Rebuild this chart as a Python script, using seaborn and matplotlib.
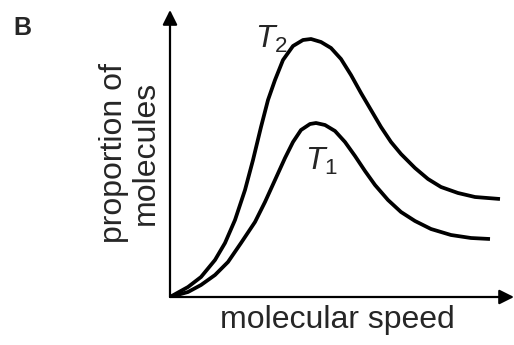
import matplotlib
matplotlib.use("Agg")
import matplotlib.pyplot as plt
import seaborn as sns
import pandas as pd

# values (arbitrary units, origin at the axis corner)
speed_t2 = [0, 18, 31, 45, 55, 65, 75, 83, 91, 98, 105, 113, 123, 133, 141,
            151, 161, 171, 181, 191, 201, 211, 221, 231, 245, 258, 271, 288, 305, 330]
prop_t2 = [0, 10, 20, 37, 54, 77, 107, 137, 170, 197, 217, 237, 251, 257, 258,
           255, 249, 238, 222, 204, 187, 170, 155, 143, 129, 118, 110, 104, 100, 98]

speed_t1 = [0, 18, 31, 45, 58, 71, 85, 95, 105, 115, 123, 131, 140, 146,
            155, 165, 175, 185, 195, 205, 218, 231, 245, 261, 281, 301, 320]
prop_t1 = [0, 5, 12, 22, 35, 54, 75, 95, 117, 139, 155, 167, 173, 174,
           172, 166, 155, 141, 126, 112, 97, 85, 76, 68, 62, 59, 58]

curve_labels = [r"$T_2$", r"$T_1$"]
label_pos = [(85, 249), (135, 127)]

sns.set_style("white")
plt.rcParams["font.family"] = ["Liberation Sans", "DejaVu Sans"]
plt.rcParams["mathtext.fontset"] = "custom"
plt.rcParams["mathtext.rm"] = "Liberation Sans"
plt.rcParams["mathtext.it"] = "Liberation Sans:italic"

df = pd.concat([
    pd.DataFrame({"speed": speed_t2, "prop": prop_t2, "T": "T2"}),
    pd.DataFrame({"speed": speed_t1, "prop": prop_t1, "T": "T1"}),
])

fig = plt.figure(figsize=(5.14, 3.45), dpi=100)
ax = fig.add_axes([170 / 514, 48 / 345, 344 / 514, 287 / 345])

sns.lineplot(data=df, x="speed", y="prop", hue="T", palette=["black", "black"],
             linewidth=2.7, legend=False, sort=False, ax=ax, estimator=None,
             solid_capstyle="butt", solid_joinstyle="round")

ax.set_xlim(0, 344)
ax.set_ylim(0, 287)
for s in ax.spines.values():
    s.set_visible(False)
ax.set_xticks([])
ax.set_yticks([])
ax.set_xlabel("")
ax.set_ylabel("")

# axis arrows
arrow = dict(arrowstyle="-|>", lw=1.6, color="black", mutation_scale=22,
             shrinkA=0, shrinkB=0)
ax.annotate("", xy=(0, 1), xytext=(0, 0), xycoords="axes fraction",
            arrowprops=arrow, annotation_clip=False)
ax.annotate("", xy=(1, 0), xytext=(0, 0), xycoords="axes fraction",
            arrowprops=arrow, annotation_clip=False)

for lab, (x, y) in zip(curve_labels, label_pos):
    ax.text(x, y, lab, fontsize=23, ha="left", va="baseline")

fig.text(337 / 514, 1 - 320 / 345, "molecular speed", fontsize=23,
         ha="center", va="center")
fig.text(130 / 514, 1 - 153 / 345, "proportion of\nmolecules", fontsize=23,
         ha="center", va="center", rotation=90, linespacing=1.05)
fig.text(13 / 514, 1 - 35 / 345, "B", fontsize=18, fontweight="bold",
         ha="left", va="baseline")

fig.savefig("out.png", dpi=100)
